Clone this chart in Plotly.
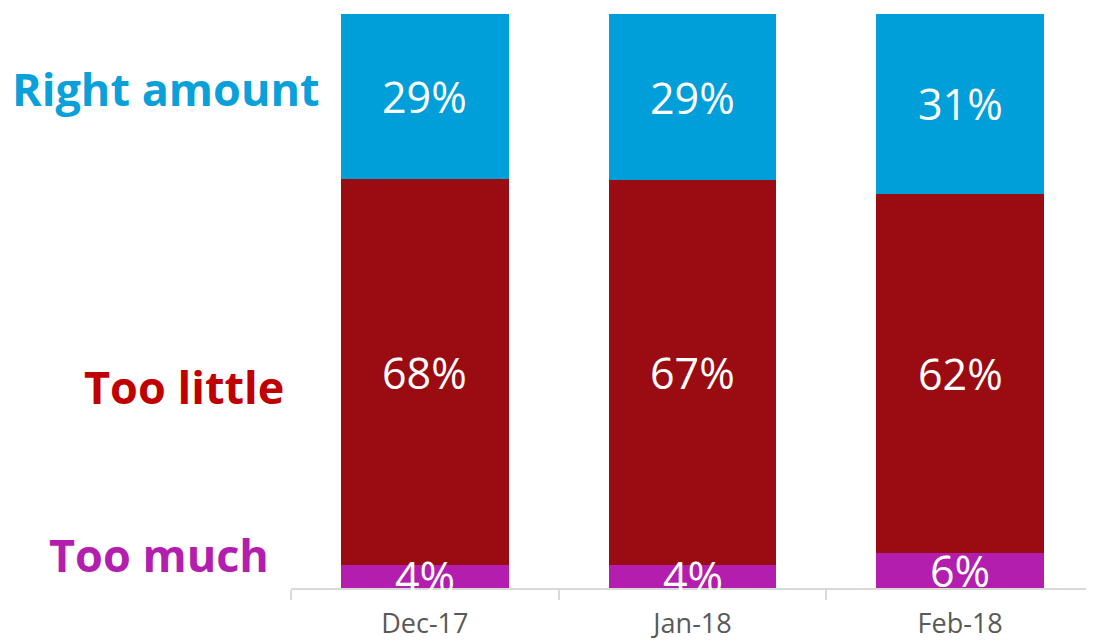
import plotly.graph_objects as go

categories = ["Dec-17", "Jan-18", "Feb-18"]
too_much = [4, 4, 6]
too_little = [68, 67, 62]
right_amount = [29, 29, 31]
series_names = ["Too much", "Too little", "Right amount"]
series_values = [too_much, too_little, right_amount]
bar_colors = ["#B31EAE", "#9A0C11", "#009FD9"]
label_colors = ["#B31EAE", "#C00000", "#0AA0DA"]

W, H = 1086, 634
L, R, T, B = 283, 0, 6, 54

fig = go.Figure()
for name, vals, col in zip(series_names, series_values, bar_colors):
    fig.add_trace(go.Bar(x=categories, y=vals, name=name,
                         marker=dict(color=col, line=dict(width=0)),
                         width=0.627, hoverinfo="skip"))

annotations = []
totals = [sum(s[i] for s in series_values) for i in range(len(categories))]
base = [0.0] * len(categories)
for vals in series_values:
    for i, v in enumerate(vals):
        share = 100.0 * v / totals[i]
        annotations.append(dict(x=categories[i], y=base[i] + share / 2, xref="x", yref="y",
                                text=f"{v}%", showarrow=False, yanchor="middle",
                                font=dict(family="Open Sans", size=43, color="white")))
        base[i] += share

# series labels on the left (pixel centres in figure coordinates)
left_pos = [(151, 546), (176, 378), (158, 80)]
for name, col, (px, py) in zip(series_names, label_colors, left_pos):
    annotations.append(dict(x=(px - L) / (W - L - R), y=((H - B) - py) / (H - T - B),
                            xref="paper", yref="paper",
                            text=f"<b>{name}</b>", showarrow=False, xanchor="center", yanchor="middle",
                            font=dict(family="Open Sans", size=45, color=col)))

fig.update_layout(
    barmode="stack",
    barnorm="percent",
    width=W, height=H,
    margin=dict(l=L, r=R, t=T, b=B, pad=0, autoexpand=False),
    plot_bgcolor="white", paper_bgcolor="white",
    showlegend=False,
    annotations=annotations,
    xaxis=dict(type="category", range=[-0.5, 2.5], showline=True, linecolor="#D9D9D9", linewidth=2,
               ticks="outside", tickson="boundaries", ticklen=10, tickcolor="#D9D9D9", tickwidth=2,
               ticklabelstandoff=11, automargin=False,
               tickfont=dict(family="Open Sans", size=27, color="#595959"),
               showgrid=False, zeroline=False),
    yaxis=dict(range=[0, 100], visible=False, showgrid=False, zeroline=False, automargin=False),
)

fig.write_html("out.html")
